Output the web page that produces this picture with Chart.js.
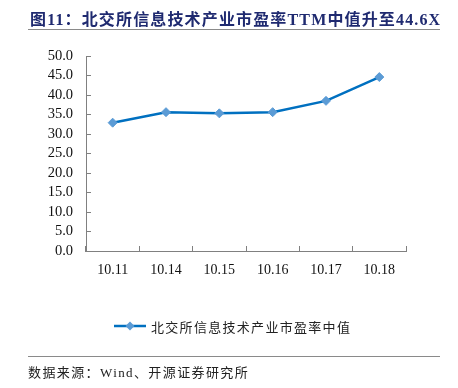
<!DOCTYPE html>
<html><head><meta charset="utf-8">
<script src="https://cdn.jsdelivr.net/npm/chart.js@4"></script>
<style>
html,body{margin:0;padding:0;background:#fff;width:458px;height:388px;overflow:hidden;}
#wrap{position:relative;width:458px;height:388px;}
canvas#c{position:absolute;left:0;top:0;}
.title{position:absolute;left:30px;top:6px;font-family:"Liberation Serif","Noto Sans CJK SC",serif;font-weight:bold;font-size:16px;color:#1F2A70;letter-spacing:1.15px;white-space:nowrap;}
.hr{position:absolute;left:28px;width:412px;height:0;border-top:1.5px solid #8a8a8a;}
.legend{position:absolute;top:317px;left:114px;height:18px;display:flex;align-items:center;white-space:nowrap;font-family:"Noto Sans CJK SC",sans-serif;font-size:13px;color:#222;letter-spacing:1.3px;}
.source{position:absolute;left:28px;top:362px;font-family:"Liberation Serif","Noto Sans CJK SC",serif;font-size:13px;color:#222;letter-spacing:1.4px;white-space:nowrap;}
</style></head>
<body><div id="wrap">
<canvas id="c" width="458" height="388"></canvas>
<div class="title">图11：北交所信息技术产业市盈率TTM中值升至44.6X</div>
<div class="hr" style="top:29px"></div>
<div class="legend"><svg width="34" height="12" style="margin-right:3px"><line x1="0" y1="6" x2="32" y2="6" stroke="#0070C0" stroke-width="2.5"/><polygon points="16,1.5 20.5,6 16,10.5 11.5,6" fill="#5B9BD5"/></svg><span id="lg"></span></div>
<div class="hr" style="top:356px"></div>
<div class="source">数据来源：Wind、开源证券研究所</div>
</div>
<script>
const categories = ["10.11","10.14","10.15","10.16","10.17","10.18"];
const seriesName = "北交所信息技术产业市盈率中值";
const peMedian = [32.9, 35.6, 35.3, 35.6, 38.5, 44.6];
const yTicks = [0,5,10,15,20,25,30,35,40,45,50];

document.getElementById('lg').textContent = seriesName;

new Chart(document.getElementById('c'), {
  type: 'line',
  data: {
    labels: categories,
    datasets: [{
      label: seriesName,
      data: peMedian,
      borderColor: '#0070C0',
      borderWidth: 2.5,
      pointStyle: 'rectRot',
      pointRadius: 4.5,
      pointBackgroundColor: '#5B9BD5',
      pointBorderColor: '#5B9BD5',
      pointBorderWidth: 1,
      tension: 0,
      fill: false
    }]
  },
  options: {
    responsive: false,
    animation: false,
    devicePixelRatio: 1,
    layout: { padding: { left: 0, right: 52, top: 56, bottom: 107 } },
    plugins: { legend: { display: false }, tooltip: { enabled: false } },
    scales: {
      x: {
        offset: true,
        grid: { offset: true, drawOnChartArea: false, drawTicks: true, tickLength: -5, tickColor: '#808080' },
        border: { color: '#808080', width: 1 },
        ticks: { color: '#111', font: { family: 'Liberation Serif', size: 14 }, padding: 16, maxRotation: 0, autoSkip: false },
        afterFit: s => { s.height = 30; }
      },
      y: {
        min: 0, max: 50,
        afterBuildTicks: s => { s.ticks = yTicks.map(v => ({ value: v })); },
        grid: { drawOnChartArea: false, drawTicks: true, tickLength: -5, tickColor: '#808080' },
        border: { color: '#808080', width: 1 },
        ticks: { color: '#111', font: { family: 'Liberation Serif', size: 14.5 }, padding: 18, autoSkip: false,
          callback: v => Number(v).toFixed(1) },
        afterFit: s => { s.width = 86; }
      }
    }
  }
});
</script>
</body></html>
